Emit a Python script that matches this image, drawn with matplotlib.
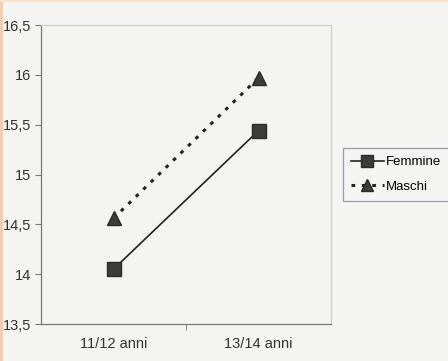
import matplotlib.pyplot as plt
from matplotlib import font_manager

# data
categorie = ['11/12 anni', '13/14 anni']
femmine = [14.05, 15.44]
maschi = [14.56, 15.97]
yticks = [13.5, 14, 14.5, 15, 15.5, 16, 16.5]
ytick_labels = ['13,5', '14', '14,5', '15', '15,5', '16', '16,5']

names = {f.name for f in font_manager.fontManager.ttflist}
fam = 'Liberation Sans Narrow' if 'Liberation Sans Narrow' in names else 'Liberation Sans'
plt.rcParams['font.family'] = [fam, 'DejaVu Sans']

bg = '#f4f4f2'
fig = plt.figure(figsize=(4.48, 3.61), dpi=100, facecolor=bg)
ax = fig.add_axes([41 / 448, 37 / 361, 290 / 448, 299 / 361], facecolor=bg)

x = range(len(categorie))
ax.plot(x, femmine, color='#222222', lw=1.2, marker='s', ms=10,
        mfc='#3c3c3c', mec='#2a2a2a', label='Femmine')
ax.plot(x, maschi, color='#222222', lw=2.2, ls=(0, (1.2, 2.2)), marker='^', ms=10,
        mfc='#3c3c3c', mec='#2a2a2a', label='Maschi')

ax.set_xlim(-0.5, 1.5)
ax.set_ylim(13.5, 16.5)
ax.set_yticks(yticks)
ax.set_yticklabels(ytick_labels, fontsize=10.5, color='#333333')
ax.set_xticks(list(x))
ax.set_xticklabels(categorie, fontsize=10.5, color='#333333')
ax.tick_params(axis='x', length=0, pad=9)
ax.set_xticks([0.5], minor=True)
ax.tick_params(axis='x', which='minor', length=4, color='#777777')
ax.tick_params(axis='y', length=4, color='#777777', pad=3)

for s in ['left', 'bottom']:
    ax.spines[s].set_color('#777777')
    ax.spines[s].set_linewidth(0.9)
for s in ['top', 'right']:
    ax.spines[s].set_color('#cfcfcf')
    ax.spines[s].set_linewidth(0.9)

leg = ax.legend(loc='upper left', bbox_to_anchor=(343 / 448, 1 - 148 / 361),
                bbox_transform=fig.transFigure, frameon=True, fancybox=False,
                fontsize=9.5, handlelength=2.5, handletextpad=0.15,
                borderpad=0.6, labelspacing=0.95, borderaxespad=0, markerscale=0.8)
leg.get_frame().set_edgecolor('#8a8498')
leg.get_frame().set_facecolor(bg)
leg.get_frame().set_linewidth(0.9)

# thin peach edge of the scanned page
fig.add_artist(plt.Line2D([0.002, 0.002], [0, 1], transform=fig.transFigure,
                          color='#f6c9a8', lw=2))
fig.add_artist(plt.Line2D([0, 1], [0.998, 0.998], transform=fig.transFigure,
                          color='#f8e2c8', lw=1.5))

fig.savefig('out.png', dpi=100, facecolor=bg)
